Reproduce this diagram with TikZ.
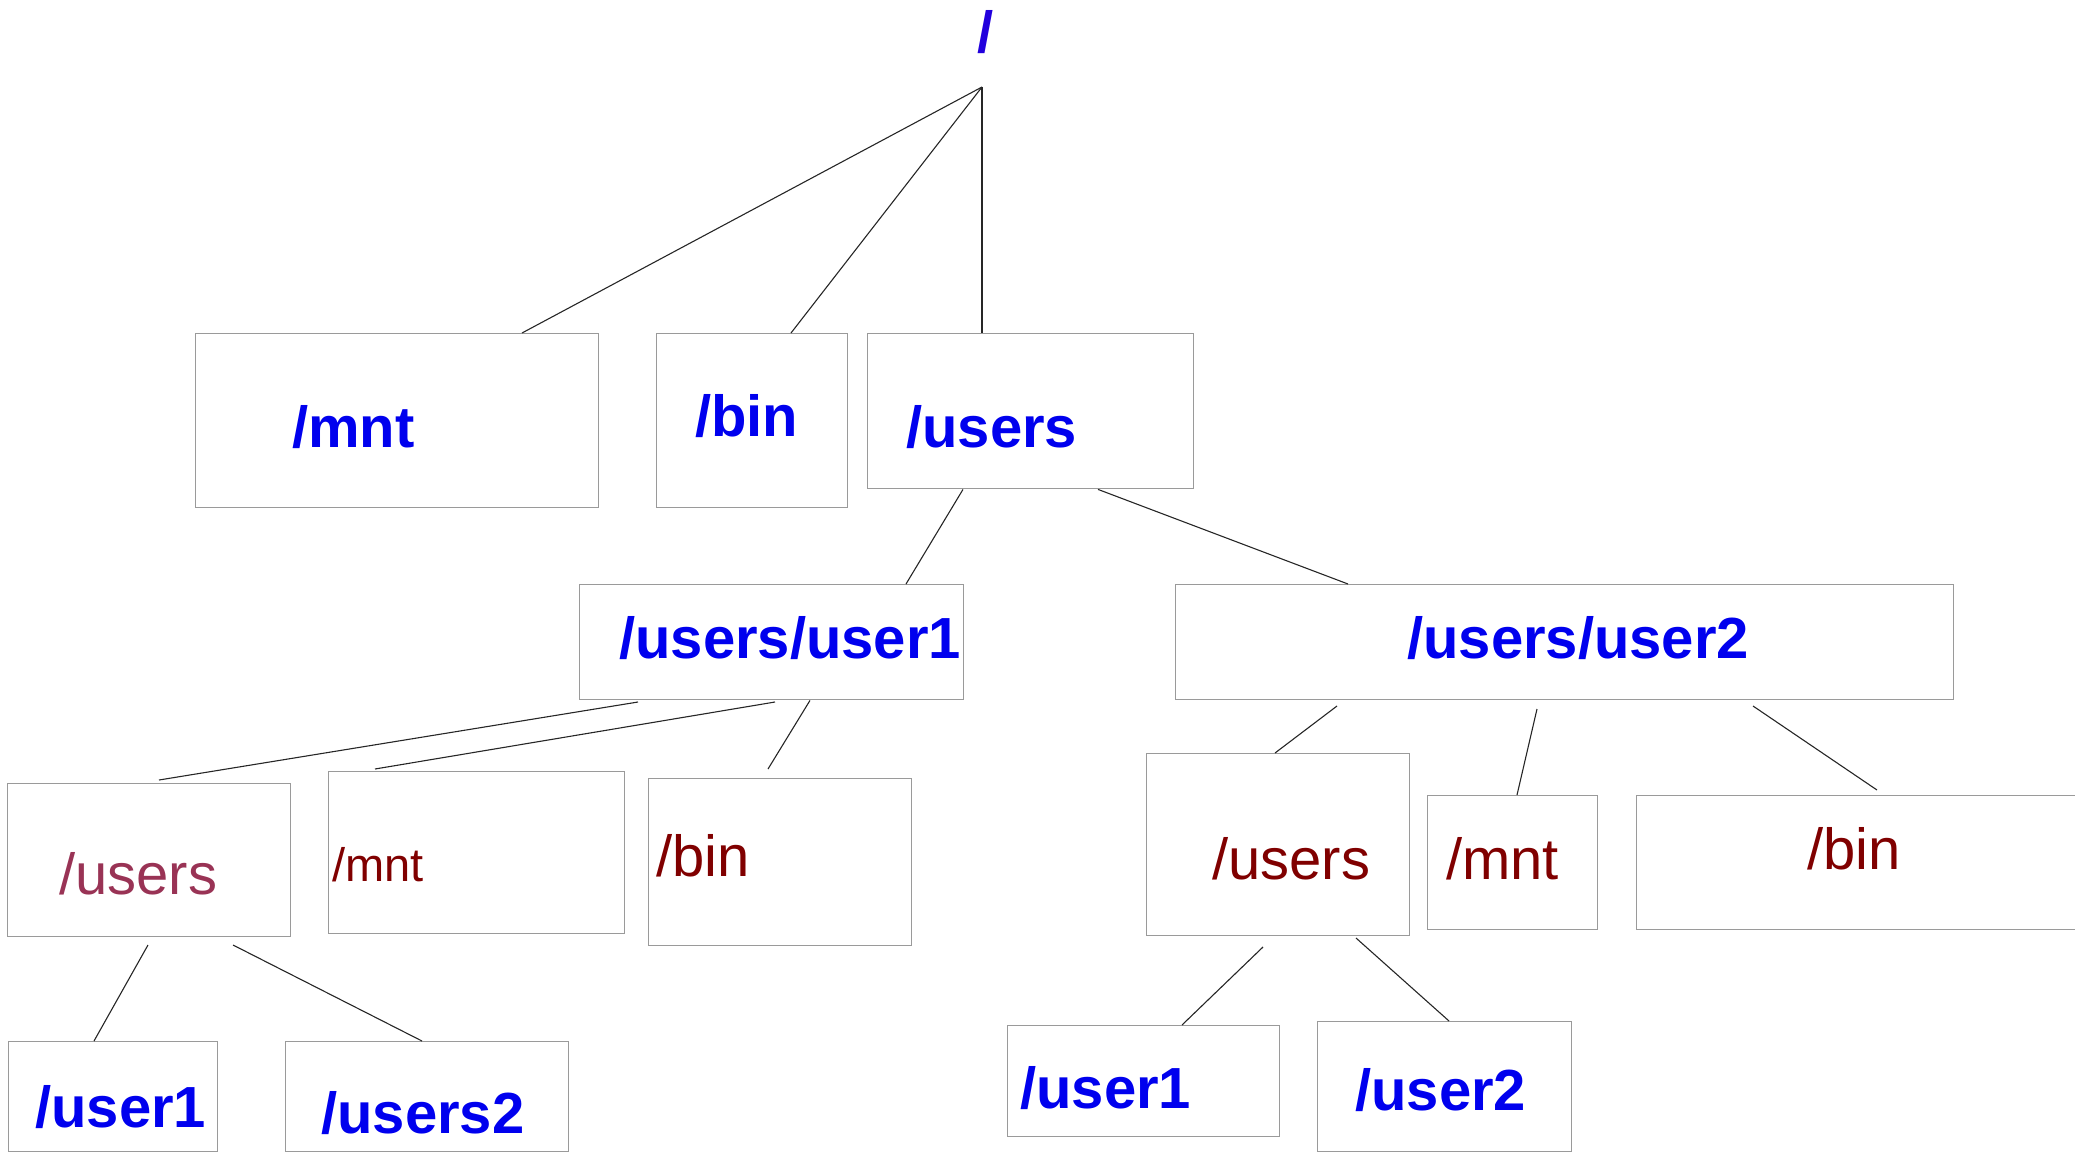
\documentclass[tikz,border=0pt]{standalone}
\usepackage{fontspec}
\setmainfont{Liberation Sans}
\usepackage{tikz}
\definecolor{DirBlue}{HTML}{0000EE}
\definecolor{RootViolet}{HTML}{2200DD}
\definecolor{DirRed}{HTML}{800000}
\definecolor{DirRose}{HTML}{993355}
\definecolor{BoxGray}{HTML}{9A9A9A}
\tikzset{
  % Box styles
  dirbox/.style={rectangle, draw=BoxGray, line width=1.4pt, anchor=north west, inner sep=0pt},
  % Label styles
  boldlabel/.style={anchor=base west, inner sep=0pt, text=DirBlue, font=\fontsize{58}{60}\selectfont\bfseries},
  plainlabel/.style={anchor=base west, inner sep=0pt, text=DirRed, font=\fontsize{58}{60}\selectfont},
  % Line styles
  link/.style={draw=black!85, line width=1.1pt}
}

\begin{document}
\begin{tikzpicture}[x=1pt, y=-1pt]
  \useasboundingbox (0,0) rectangle (2075,1152);

  % Root
  \node[boldlabel, text=RootViolet] (lroot) at (977,52) {/};
  \coordinate (root) at (982,87);

  % First level
  \node[dirbox, minimum width=403pt, minimum height=174pt] (bmnt) at (195,333) {};
  \node[dirbox, minimum width=191pt, minimum height=174pt] (bbin) at (656,333) {};
  \node[dirbox, minimum width=326pt, minimum height=155pt] (busers) at (867,333) {};
  \node[boldlabel] (lmnt) at (292,447) {/mnt};
  \node[boldlabel] (lbin) at (695,436) {/bin};
  \node[boldlabel] (lusers) at (906,447) {/users};

  % Second level
  \node[dirbox, minimum width=384pt, minimum height=115pt] (bu1) at (579,584) {};
  \node[dirbox, minimum width=778pt, minimum height=115pt] (bu2) at (1175,584) {};
  \node[boldlabel] (lu1) at (619,658) {/users/user1};
  \node[boldlabel] (lu2) at (1407,658) {/users/user2};

  % Third level, under user1
  \node[dirbox, minimum width=283pt, minimum height=153pt] (blusers) at (7,783) {};
  \node[dirbox, minimum width=296pt, minimum height=162pt] (blmnt) at (328,771) {};
  \node[dirbox, minimum width=263pt, minimum height=167pt] (blbin) at (648,778) {};
  \node[plainlabel, text=DirRose] (llusers) at (59,894) {/users};
  \node[plainlabel, font=\fontsize{47}{50}\selectfont] (llmnt) at (332,881) {/mnt};
  \node[plainlabel] (llbin) at (656,876) {/bin};

  % Third level, under user2
  \node[dirbox, minimum width=263pt, minimum height=182pt] (brusers) at (1146,753) {};
  \node[dirbox, minimum width=170pt, minimum height=134pt] (brmnt) at (1427,795) {};
  \node[dirbox, minimum width=500pt, minimum height=134pt] (brbin) at (1636,795) {};
  \node[plainlabel] (lrusers) at (1212,879) {/users};
  \node[plainlabel] (lrmnt) at (1446,879) {/mnt};
  \node[plainlabel] (lrbin) at (1807,869) {/bin};

  % Fourth level
  \node[dirbox, minimum width=209pt, minimum height=110pt] (bllu1) at (8,1041) {};
  \node[dirbox, minimum width=283pt, minimum height=110pt] (bllu2) at (285,1041) {};
  \node[dirbox, minimum width=272pt, minimum height=111pt] (brru1) at (1007,1025) {};
  \node[dirbox, minimum width=254pt, minimum height=130pt] (brru2) at (1317,1021) {};
  \node[boldlabel] (llu1) at (35,1127) {/user1};
  \node[boldlabel] (llu2) at (321,1133) {/users2};
  \node[boldlabel] (lru1) at (1020,1108) {/user1};
  \node[boldlabel] (lru2) at (1355,1110) {/user2};

  % Loose line ends
  \coordinate (a1) at (638,702);
  \coordinate (a2) at (775,702);
  \coordinate (b1) at (159,780);
  \coordinate (b2) at (375,769);
  \coordinate (b3) at (768,769);
  \coordinate (c1) at (1337,706);
  \coordinate (c2) at (1537,709);
  \coordinate (c3) at (1753,706);
  \coordinate (d3) at (1877,790);
  \coordinate (e1) at (148,945);
  \coordinate (e2) at (233,945);
  \coordinate (f1) at (1263,947);
  \coordinate (f2) at (1356,938);

  % Connectors
  \draw[link] (root) -- ([xshift=327pt]bmnt.north west);
  \draw[link] (root) -- ([xshift=135pt]bbin.north west);
  \draw[link] (root) -- ([xshift=115pt]busers.north west);
  \draw[link] ([xshift=96pt]busers.south west) -- ([xshift=327pt]bu1.north west);
  \draw[link] ([xshift=231pt]busers.south west) -- ([xshift=173pt]bu2.north west);
  \draw[link] (a1) -- (b1);
  \draw[link] (a2) -- (b2);
  \draw[link] ([xshift=231pt]bu1.south west) -- (b3);
  \draw[link] (c1) -- ([xshift=129pt]brusers.north west);
  \draw[link] (c2) -- ([xshift=90pt]brmnt.north west);
  \draw[link] (c3) -- (d3);
  \draw[link] (e1) -- ([xshift=86pt]bllu1.north west);
  \draw[link] (e2) -- ([xshift=137pt]bllu2.north west);
  \draw[link] (f1) -- ([xshift=175pt]brru1.north west);
  \draw[link] (f2) -- ([xshift=132pt]brru2.north west);
\end{tikzpicture}
\end{document}
